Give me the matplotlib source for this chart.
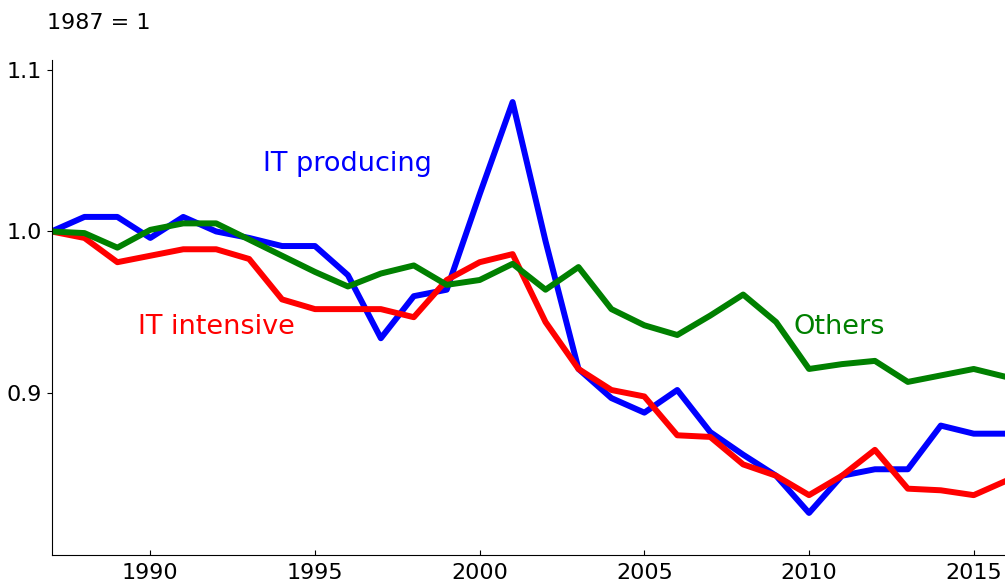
import matplotlib
matplotlib.use("Agg")
import matplotlib.pyplot as plt

years = list(range(1987, 2017))
it_producing = [1.000, 1.009, 1.009, 0.996, 1.009, 1.000, 0.996, 0.991, 0.991, 0.973,
                0.934, 0.960, 0.964, 1.023, 1.080, 0.994, 0.915, 0.897, 0.888, 0.902,
                0.876, 0.862, 0.849, 0.826, 0.849, 0.853, 0.853, 0.880, 0.875, 0.875]
it_intensive = [1.000, 0.996, 0.981, 0.985, 0.989, 0.989, 0.983, 0.958, 0.952, 0.952,
                0.952, 0.947, 0.970, 0.981, 0.986, 0.944, 0.915, 0.902, 0.898, 0.874,
                0.873, 0.856, 0.849, 0.837, 0.849, 0.865, 0.841, 0.840, 0.837, 0.846]
others = [1.000, 0.999, 0.990, 1.001, 1.005, 1.005, 0.995, 0.985, 0.975, 0.966,
          0.974, 0.979, 0.967, 0.970, 0.980, 0.964, 0.978, 0.952, 0.942, 0.936,
          0.948, 0.961, 0.944, 0.915, 0.918, 0.920, 0.907, 0.911, 0.915, 0.910]

xticks = [1990, 1995, 2000, 2005, 2010, 2015]
yticks = [0.9, 1.0, 1.1]
ytick_labels = ["0.9", "1.0", "1.1"]

fig = plt.figure(figsize=(10.05, 5.86), dpi=100)
ax = fig.add_axes([51.5 / 1005, 31 / 586, (1005 - 51.5) / 1005, (555 - 60) / 586])

lw = 4.3
ax.plot(years, it_producing, color="blue", lw=lw)
ax.plot(years, it_intensive, color="red", lw=lw)
ax.plot(years, others, color="green", lw=lw)

ax.text(1996.0, 1.0415, "IT producing", color="blue", fontsize=19.5, ha="center", va="center")
ax.text(1992.0, 0.9408, "IT intensive", color="red", fontsize=19.5, ha="center", va="center")
ax.text(2010.93, 0.9408, "Others", color="green", fontsize=19.5, ha="center", va="center")

ax.set_xlim(1987, 2015.95)
ax.set_ylim(0.80, 1.106)
ax.set_xticks(xticks)
ax.set_xticklabels([str(x) for x in xticks])
ax.set_yticks(yticks)
ax.set_yticklabels(ytick_labels)
ax.tick_params(axis="x", direction="in", labelsize=16, pad=6)
ax.tick_params(axis="y", direction="out", labelsize=16)
ax.spines["top"].set_visible(False)
ax.spines["right"].set_visible(False)

fig.text(47 / 1005, 1 - 23 / 586, "1987 = 1", fontsize=16, ha="left", va="center")

fig.savefig("out.png", dpi=100)
